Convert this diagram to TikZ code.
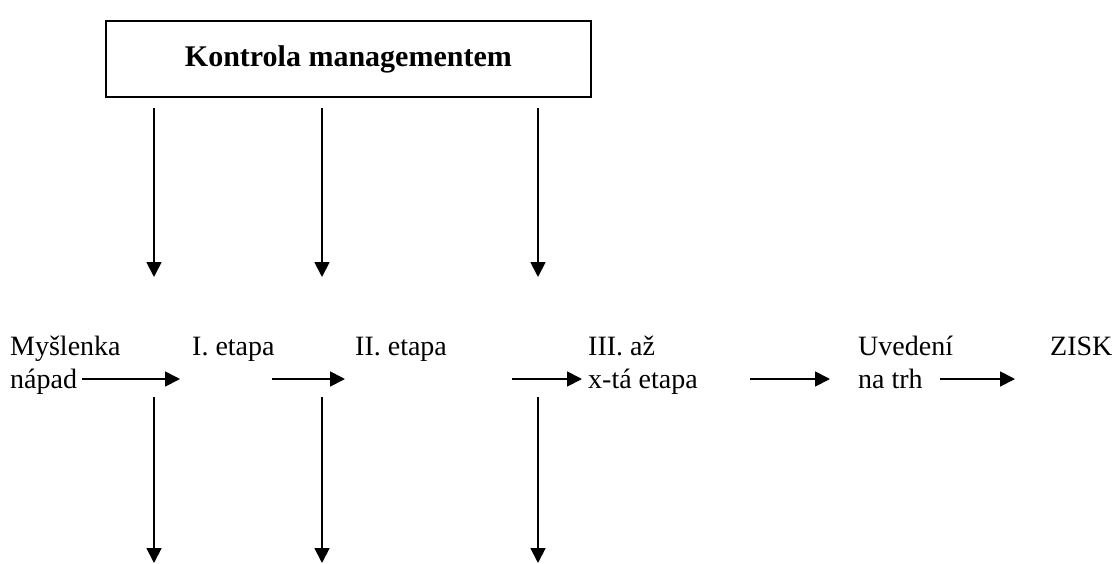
\documentclass[tikz,border=0pt]{standalone}
\usepackage{fontspec}
\setmainfont{Liberation Serif}
\usetikzlibrary{arrows.meta}
\begin{document}
\begin{tikzpicture}[x=1pt,y=-1pt,
  lbl/.style={anchor=base west, inner sep=0pt, font=\fontsize{28}{33}\selectfont},
  flow/.style={line width=1.8pt, -{Triangle[length=15pt,width=15pt]}},
  boxed/.style={draw, line width=1.8pt, inner sep=0pt, anchor=north west,
    minimum width=485pt, minimum height=76pt,
    font=\bfseries\fontsize{30}{35}\selectfont},
]
\useasboundingbox (0,0) rectangle (1120,563);

% management box
\node[boxed] (mgmt) at (105,20) {Kontrola managementem};

% stage labels
\node[lbl] (idea1)  at (10,355)   {Myšlenka};
\node[lbl] (idea2)  at (10,388)   {nápad};
\node[lbl] (st1)    at (192,355)  {I. etapa};
\node[lbl] (st2)    at (355,355)  {II. etapa};
\node[lbl] (st3a)   at (588,355)  {III. až};
\node[lbl] (st3b)   at (588,388)  {x-tá etapa};
\node[lbl] (mkt1)   at (858,355)  {Uvedení};
\node[lbl] (mkt2)   at (858,388)  {na trh};
\node[lbl] (profit) at (1050,355) {ZISK};

% control arrows from management
\foreach \n/\x in {a/154, b/322, c/538} {
  \coordinate (top\n) at (\x,108);
  \coordinate (in\n)  at (\x,277);
  \coordinate (out\n) at (\x,397);
  \coordinate (end\n) at (\x,563);
  \draw[flow] (top\n) -- (in\n);
  \draw[flow] (out\n) -- (end\n);
}

% process flow
\foreach \n/\a/\b in {1/82/180, 2/272/345, 3/512/582, 4/750/830, 5/940/1015} {
  \coordinate (f\n s) at (\a,379);
  \coordinate (f\n e) at (\b,379);
  \draw[flow] (f\n s) -- (f\n e);
}
\end{tikzpicture}
\end{document}
